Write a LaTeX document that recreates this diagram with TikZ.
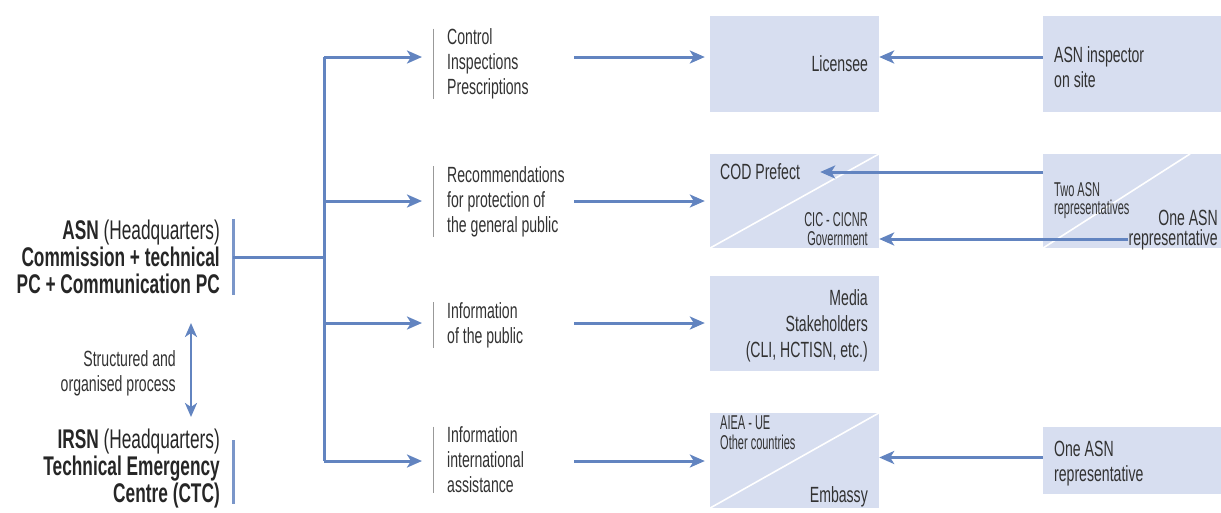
\documentclass[tikz,border=0pt]{standalone}
\usepackage{fontspec}
\setmainfont{Liberation Sans}
\newfontfamily\condfont[FakeStretch=0.64]{Liberation Sans}
\newfontfamily\narrowfont[FakeStretch=0.55]{Liberation Sans}
\usetikzlibrary{arrows.meta}

\definecolor{asnblue}{RGB}{98,132,192}
\definecolor{boxfill}{RGB}{215,222,240}
\definecolor{txtgray}{RGB}{50,50,50}

\tikzset{
  flow/.style={asnblue, line width=3pt, -{Stealth[length=15pt,width=13pt,inset=4pt]}},
  dflow/.style={asnblue, line width=2.6pt, {Stealth[length=14pt,width=12pt,inset=4pt]}-{Stealth[length=14pt,width=12pt,inset=4pt]}},
  trunkline/.style={asnblue, line width=3pt},
  sepbar/.style={gray!80, line width=0.9pt},
  headbar/.style={asnblue!85, line width=3pt},
  rbox/.style={fill=boxfill, minimum width=169pt, minimum height=95pt, inner sep=0pt},
  wbox/.style={fill=boxfill, minimum width=190pt, minimum height=96pt, inner sep=0pt},
  split/.style={white, line width=1.6pt},
  midtxt/.style={anchor=west, align=left, inner xsep=14pt, inner ysep=0pt, txtgray,
    font=\condfont\fontsize{22}{25}\selectfont},
  boxtxt/.style={inner sep=0pt, txtgray, font=\condfont\fontsize{22}{25}\selectfont},
  smalltxt/.style={inner sep=0pt, txtgray, font=\narrowfont\fontsize{20}{19}\selectfont},
  headtxt/.style={anchor=east, align=right, inner xsep=13pt, inner ysep=1pt, black!85,
    font=\condfont\bfseries\fontsize{27}{27}\selectfont},
}

\begin{document}
\begin{tikzpicture}[x=1pt,y=-1pt]
  \useasboundingbox (0,0) rectangle (1221,512);

  % left column
  \node[headtxt] (asn) at (233,257)
    {ASN {\mdseries (Headquarters)}\\Commission + technical\\PC + Communication PC};
  \node[headtxt] (irsn) at (233,469)
    {IRSN {\mdseries (Headquarters)}\\Technical Emergency\\Centre (CTC)};
  \draw[headbar] (asn.north east) -- (asn.south east);
  \draw[headbar] ([yshift=-12pt]irsn.north east) -- ([yshift=6pt]irsn.south east);

  \node[boxtxt, anchor=east, align=right] (proc) at (176,373)
    {Structured and\\organised process};
  \coordinate (pa) at (191,323);
  \coordinate (pb) at (191,417);
  \draw[dflow] (pa) -- (pb);

  % trunk
  \coordinate (tk0) at (324,257);
  \coordinate (tk1) at (324,57);
  \coordinate (tk2) at (324,201);
  \coordinate (tk3) at (324,323);
  \coordinate (tk4) at (324,461);
  \draw[trunkline] (asn.east) -- (tk0);
  \draw[trunkline] (tk1) -- (tk4);

  % actions
  \node[midtxt] (ctrl) at (433,64) {Control\\Inspections\\Prescriptions};
  \node[midtxt] (reco) at (433,201.5)
    {Recommendations\\for protection of\\the general public};
  \node[midtxt] (info) at (433,325) {Information\\of the public};
  \node[midtxt] (intl) at (433,460) {Information\\international\\assistance};
  \foreach \n in {ctrl,reco,info,intl}
    \draw[sepbar] (\n.north west) -- (\n.south west);

  \draw[flow, shorten >=11pt] (tk1) -- (tk1 -| ctrl.west);
  \draw[flow, shorten >=11pt] (tk2) -- (tk2 -| reco.west);
  \draw[flow, shorten >=11pt] (tk3) -- (tk3 -| info.west);
  \draw[flow, shorten >=11pt] (tk4) -- (tk4 -| intl.west);

  % addressees
  \node[rbox, minimum height=96pt] (lic) at (794.5,64) {};
  \node[rbox, minimum height=94pt] (cod) at (794.5,201) {};
  \node[rbox] (med) at (794.5,323.5) {};
  \node[rbox] (aiea) at (794.5,460.5) {};
  \draw[split] (cod.south west) -- (cod.north east);
  \draw[split] (aiea.south west) -- (aiea.north east);

  \node[boxtxt, anchor=east] (lictxt) at ([xshift=-11pt]lic.east) {Licensee};
  \node[boxtxt, anchor=west] (codtxt) at (720,172) {COD Prefect};
  \node[smalltxt, anchor=east, align=right] (govtxt) at (868,229)
    {CIC - CICNR\\Government};
  \node[boxtxt, anchor=east, align=right, font=\condfont\fontsize{22}{26}\selectfont]
    (medtxt) at (868,326) {Media\\Stakeholders\\(CLI, HCTISN, etc.)};
  \node[smalltxt, anchor=west, align=left, font=\narrowfont\fontsize{20}{20}\selectfont]
    (aieatxt) at (720,433) {AIEA - UE\\Other countries};
  \node[boxtxt, anchor=east] (embtxt) at (868,497) {Embassy};

  \coordinate (o1) at (574,57);
  \coordinate (o2) at (574,201);
  \coordinate (o3) at (574,323);
  \coordinate (o4) at (574,461);
  \draw[flow, shorten >=5pt] (o1) -- (o1 -| lic.west);
  \draw[flow, shorten >=5pt] (o2) -- (o2 -| cod.west);
  \draw[flow, shorten >=5pt] (o3) -- (o3 -| med.west);
  \draw[flow, shorten >=5pt] (o4) -- (o4 -| aiea.west);

  % ASN on site
  \node[wbox] (insp) at (1138,64) {};
  \node[wbox, minimum height=94pt] (rep) at (1138,201) {};
  \node[wbox, minimum height=67pt] (one) at (1138,460.5) {};
  \draw[split] (rep.south west) -- ([xshift=-43pt]rep.north east);

  \node[boxtxt, anchor=west, align=left] (insptxt) at (1054,67) {ASN inspector\\on site};
  \node[smalltxt, anchor=west, align=left, font=\narrowfont\fontsize{20}{18}\selectfont]
    (tworep) at (1054,201) {Two ASN\\representatives};
  \node[boxtxt, anchor=east, align=right, font=\condfont\fontsize{22}{20}\selectfont]
    (onerep) at (1218,230) {One ASN\\representative};
  \node[boxtxt, anchor=west, align=left] (onetxt) at (1054,464) {One ASN\\representative};

  \draw[flow] (insp.west |- o1) -- (lic.east |- o1);
  \draw[flow] (rep.west |- codtxt) -- ([xshift=20pt]codtxt.east);
  \draw[flow] ([yshift=-9pt]onerep.west) -- ([yshift=-9pt]onerep.west -| cod.east);
  \draw[flow] ([yshift=3pt]one.west) -- ([yshift=3pt]one.west -| aiea.east);
\end{tikzpicture}
\end{document}
